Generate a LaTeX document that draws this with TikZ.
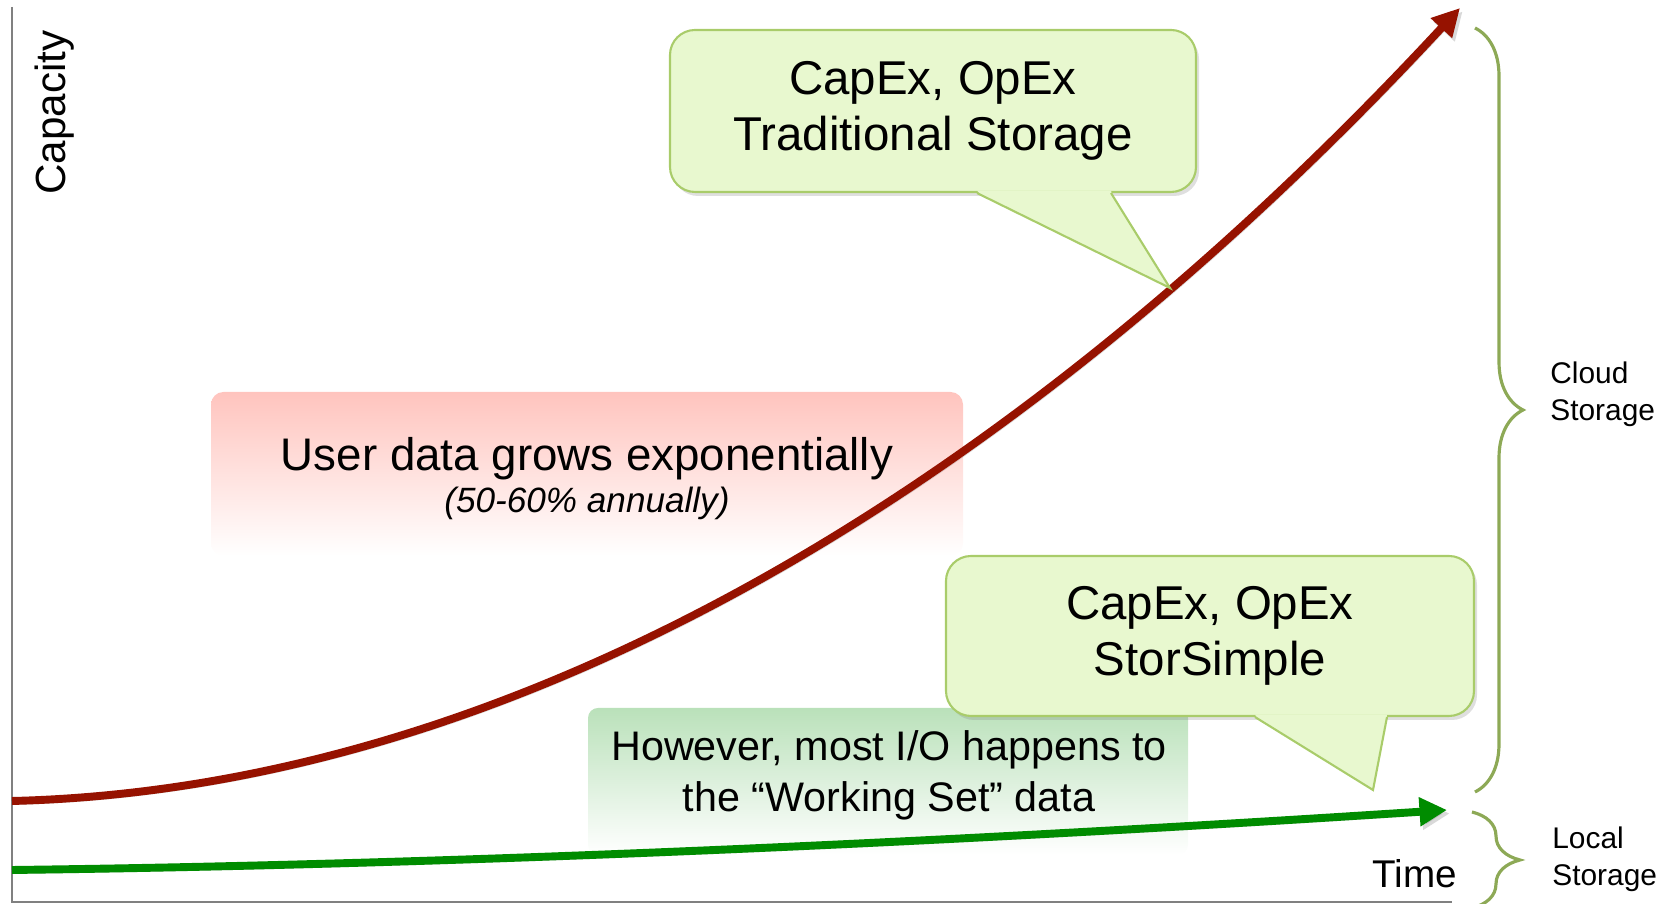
\documentclass[tikz,border=0pt]{standalone}
\usepackage{fontspec}
\setmainfont{Liberation Sans}
\usetikzlibrary{positioning, calc, arrows.meta, decorations.pathreplacing, shadows}

\definecolor{growred}{RGB}{150,18,0}
\definecolor{workgreen}{RGB}{0,140,0}
\definecolor{bubblefill}{RGB}{232,248,207}
\definecolor{bubbleline}{RGB}{169,204,106}
\definecolor{braceline}{RGB}{141,169,86}
\definecolor{pinkbox}{RGB}{255,196,190}
\definecolor{mintbox}{RGB}{186,225,186}

\begin{document}
\begin{tikzpicture}[
	bubble/.style={shape=rectangle, rounded corners=0.5cm, draw=bubbleline, line width=1.2pt, fill=bubblefill, align=center, font=\fontsize{27}{32}\selectfont, drop shadow={opacity=0.25, shadow xshift=0.06cm, shadow yshift=-0.08cm}},
	tail/.style={draw=bubbleline, line width=1.2pt, line join=miter},
	trend/.style={line width=4.5pt, -{Triangle[length=0.55cm, width=0.55cm]}, preaction={draw=black!50, opacity=0.3, transform canvas={xshift=1.5pt, yshift=-2pt}}},
	curly/.style={draw=braceline, line width=1.8pt, decorate, decoration={brace, amplitude=0.96cm}},
	side/.style={align=left, anchor=west, inner sep=0pt, font=\fontsize{17}{21}\selectfont},
	axis/.style={draw=black!50, line width=1.1pt},
]
	\useasboundingbox (0,0) rectangle (33.5,18.08);

	% background boxes
	\shade[top color=pinkbox, bottom color=white, rounded corners=0.25cm] (4.22,6.96) rectangle (19.26,10.24);
	\shade[top color=mintbox, bottom color=white, rounded corners=0.2cm] (11.76,0.98) rectangle (23.76,3.92);

	\node[align=center, font=\fontsize{26}{24}\selectfont] (growth) at (11.74,8.51) {User data grows exponentially\\{\fontsize{20}{24}\selectfont\itshape (50-60\% annually)}};
	\node[align=center, font=\fontsize{23.5}{29}\selectfont] (workset) at (17.78,2.57) {However, most I/O happens to\\the “Working Set” data};

	% axes
	\coordinate (origin) at (0.24,0.04);
	\coordinate (ytop) at (0.24,17.94);
	\coordinate (xend) at (29.04,0.04);
	\draw[axis] (ytop) -- (origin) -- (xend);
	\node[rotate=90, anchor=base west, font=\fontsize{24}{28}\selectfont] (capacity) at (1.3,14.06) {Capacity};
	\node[anchor=base east, font=\fontsize{22}{26}\selectfont] (time) at (29.26,0.32) {Time};

	% curves
	\coordinate (redstart) at (0.24,2.06);
	\coordinate (redend) at (29.2,17.92);
	\coordinate (greenstart) at (0.24,0.68);
	\coordinate (greenend) at (28.94,1.88);
	\draw[trend, growred] (redstart) .. controls (10,2.3) and (20,8) .. (redend);
	\draw[trend, workgreen] (greenstart) .. controls (10,0.8) and (20,1.3) .. (greenend);

	% callouts
	\node[bubble, minimum width=10.52cm, minimum height=3.24cm] (trad) at (18.66,15.86) {CapEx, OpEx\\Traditional Storage};
	\coordinate (tradtip) at (23.4,12.32);
	\coordinate (tradleft) at ($(trad.south)+(0.88,0)$);
	\coordinate (tradright) at ($(trad.south)+(3.56,0)$);
	\fill[bubblefill] ($(tradleft)+(0,0.05)$) -- ($(tradleft)!0.02!(tradtip)$) -- (tradtip) -- ($(tradright)!0.02!(tradtip)$) -- ($(tradright)+(0,0.05)$) -- cycle;
	\draw[tail] (tradleft) -- (tradtip) -- (tradright);

	\node[bubble, minimum width=10.56cm, minimum height=3.2cm] (simple) at (24.2,5.36) {CapEx, OpEx\\StorSimple};
	\coordinate (simpletip) at (27.46,2.28);
	\coordinate (simpleleft) at ($(simple.south)+(0.9,0)$);
	\coordinate (simpleright) at ($(simple.south)+(3.54,0)$);
	\fill[bubblefill] ($(simpleleft)+(0,0.05)$) -- ($(simpleleft)!0.02!(simpletip)$) -- (simpletip) -- ($(simpleright)!0.02!(simpletip)$) -- ($(simpleright)+(0,0.05)$) -- cycle;
	\draw[tail] (simpleleft) -- (simpletip) -- (simpleright);

	% braces
	\coordinate (cloudtop) at (29.5,17.52);
	\coordinate (cloudbot) at (29.5,2.24);
	\coordinate (localtop) at (29.44,1.84);
	\coordinate (localbot) at (29.44,-0.08);
	\draw[curly] (cloudtop) -- (cloudbot);
	\draw[curly] (localtop) -- (localbot);
	\node[side] (cloud) at (31.0,10.2) {Cloud\\Storage};
	\node[side] (local) at (31.04,0.9) {Local\\Storage};
\end{tikzpicture}
\end{document}
